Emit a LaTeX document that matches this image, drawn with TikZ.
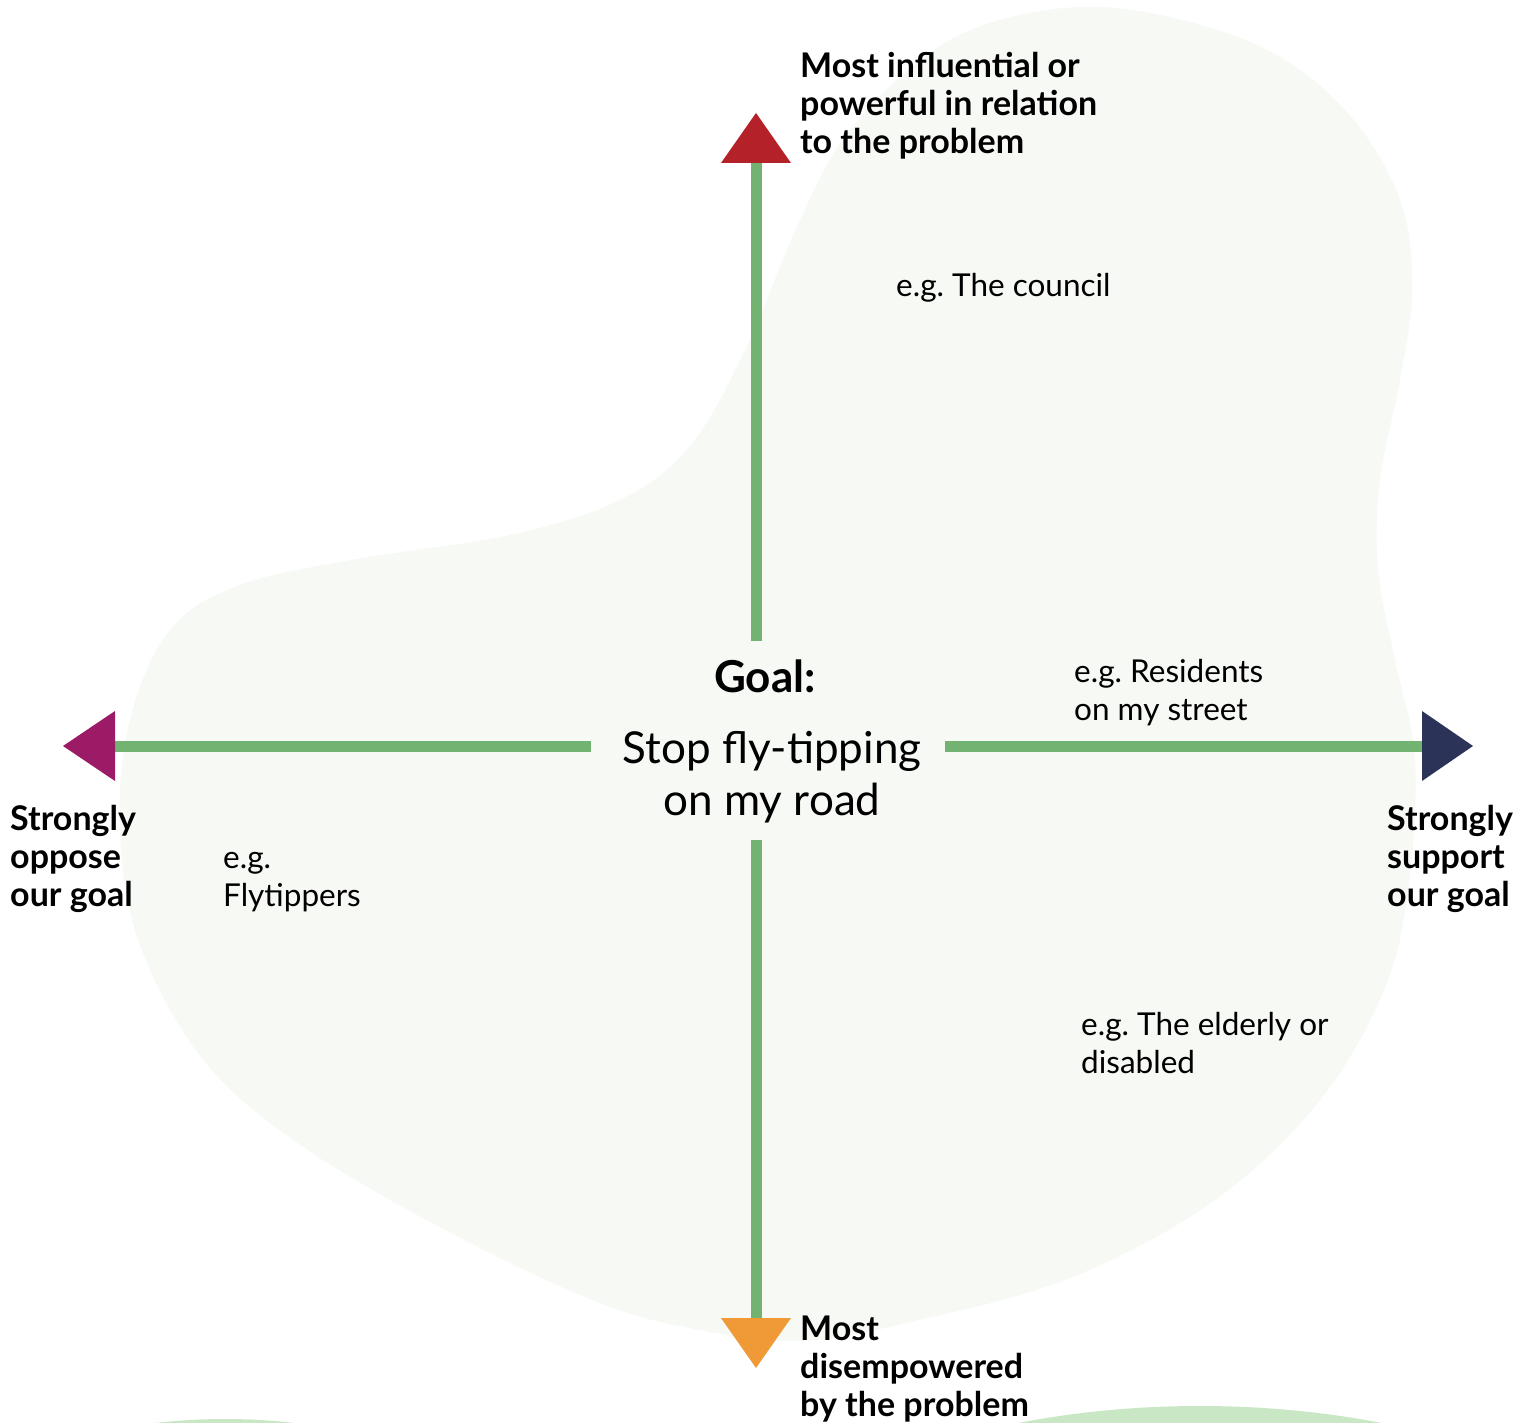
\documentclass[tikz,border=0pt]{standalone}
\usepackage{fontspec}
\setmainfont{Lato}
\frenchspacing
\definecolor{blob}{HTML}{F7F9F5}
\definecolor{axisgreen}{HTML}{72B371}
\definecolor{bump}{HTML}{C9E7C5}
\definecolor{tred}{HTML}{B52129}
\definecolor{tmag}{HTML}{9B1B66}
\definecolor{tnavy}{HTML}{2B3359}
\definecolor{torange}{HTML}{EF9A36}
\begin{document}
\begin{tikzpicture}[x=1pt,y=-1pt,
  axis/.style={draw=axisgreen,line width=11pt},
  boldlbl/.style={font=\fontsize{34}{38}\selectfont\bfseries,align=left,inner sep=0pt,anchor=base west},
  eglbl/.style={font=\fontsize{31.5}{38}\selectfont,align=left,inner sep=0pt,anchor=base west}]
\useasboundingbox (0,0) rectangle (1532,1423);
\clip (0,0) rectangle (1532,1423);
\fill[white] (0,0) rectangle (1532,1423);
% background blob
\fill[blob] plot[smooth cycle,tension=0.6] coordinates {
 (1125,9) (1257,45) (1346,111) (1400,200) (1412,290) (1400,380) (1380,480)
 (1378,570) (1395,660) (1415,760) (1408,890) (1384,990) (1320,1100)
 (1215,1200) (1070,1278) (910,1322) (800,1341) (700,1330) (600,1303)
 (455,1235) (305,1148) (205,1062) (140,945) (120,830) (130,720) (170,630)
 (240,585) (357,559) (510,535) (620,500) (690,446) (745,350) (800,220)
 (850,130) (934,50) (1020,15)};
% bottom bumps
\fill[bump] (225,1569) ellipse [x radius=300,y radius=150];
\fill[bump] (1200,1656) ellipse [x radius=500,y radius=250];
% axis coordinates
\coordinate (ctop) at (756,641);
\coordinate (cbot) at (756,840);
\coordinate (cleft) at (591,746);
\coordinate (cright) at (945,746);
\coordinate (ttop) at (756,163);
\coordinate (tbot) at (756,1318);
\coordinate (tleft) at (115,746);
\coordinate (tright) at (1422,746);
\draw[axis] (ctop) -- (ttop);
\draw[axis] (cbot) -- (tbot);
\draw[axis] (cleft) -- (tleft);
\draw[axis] (cright) -- (tright);
% arrow heads
\fill[tred] (ttop) ++(-35,0) -- ++(70,0) -- (756,113) -- cycle;
\fill[torange] (tbot) ++(-35,0) -- ++(70,0) -- (756,1368) -- cycle;
\fill[tmag] (tleft) ++(0,-35) -- ++(0,70) -- (63,746) -- cycle;
\fill[tnavy] (tright) ++(0,-35) -- ++(0,70) -- (1473,746) -- cycle;
% centre (multi-line nodes: base = last baseline)
\node[font=\fontsize{44}{48}\selectfont\bfseries,inner sep=0pt,anchor=base] (goal) at (765,692) {Goal:};
\node[font=\fontsize{44}{52}\selectfont,align=center,inner sep=0pt,anchor=base] (stop) at (772,815) {Stop fly-tipping\\on my road};
% labels
\node[boldlbl] (top) at (800,154) {Most influential or\\powerful in relation\\to the problem};
\node[boldlbl] (bot) at (800,1416) {Most\\disempowered\\by the problem};
\node[boldlbl] (left) at (10,906) {Strongly\\oppose\\our goal};
\node[boldlbl] (right) at (1387,906) {Strongly\\support\\our goal};
\node[eglbl] (council) at (896,297) {e.g. The council};
\node[eglbl] (residents) at (1074,720) {e.g. Residents\\on my street};
\node[eglbl] (fly) at (223,906) {e.g.\\Flytippers};
\node[eglbl] (elderly) at (1081,1073) {e.g. The elderly or\\disabled};
\end{tikzpicture}
\end{document}
